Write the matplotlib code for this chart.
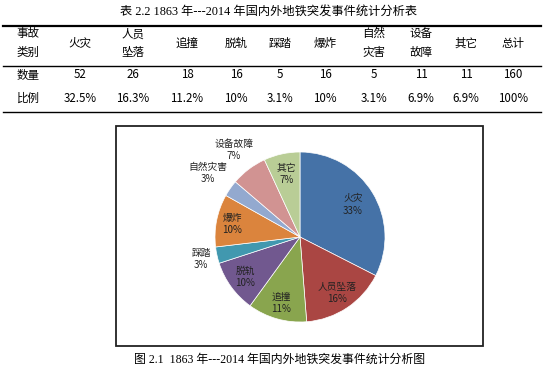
import matplotlib
matplotlib.use('Agg')
import matplotlib.pyplot as plt
from matplotlib.lines import Line2D
from matplotlib.patches import Rectangle
import numpy as np

plt.rcParams['font.family'] = ['Noto Sans CJK SC', 'DejaVu Sans']

# 表格数据
title = '表 2.2 1863 年---2014 年国内外地铁突发事件统计分析表'
caption = '图 2.1  1863 年---2014 年国内外地铁突发事件统计分析图'
header = ['事故\n类别', '火灾', '人员\n坠落', '追撞', '脱轨', '踩踏', '爆炸', '自然\n灾害', '设备\n故障', '其它', '总计']
counts_row = ['数量', '52', '26', '18', '16', '5', '16', '5', '11', '11', '160']
ratio_row = ['比例', '32.5%', '16.3%', '11.2%', '10%', '3.1%', '10%', '3.1%', '6.9%', '6.9%', '100%']

# 饼图数据
pie_labels = ['火灾', '人员坠落', '追撞', '脱轨', '踩踏', '爆炸', '自然灾害', '设备故障', '其它']
pie_counts = [52, 26, 18, 16, 5, 16, 5, 11, 11]
pie_colors = ['#4572A7', '#AA4643', '#89A54E', '#71588F', '#4198AF',
              '#DB843D', '#93A9CF', '#D19392', '#B9CD96']
label_dist = [0.73, 0.79, 0.81, 0.80, 1.19, 0.81, 1.32, 1.29, 0.76]

W, H = 552, 374
fig = plt.figure(figsize=(W / 100, H / 100), dpi=100)


def px(x, y):
    return x / W, 1 - y / H


def txt(x, y, s, **kw):
    fx, fy = px(x, y)
    fig.text(fx, fy, s, ha='center', va='center', **kw)


def hline(y, x0, x1, lw):
    a, b = px(x0, y)
    c, _ = px(x1, y)
    fig.add_artist(Line2D([a, c], [b, b], transform=fig.transFigure, color='black', lw=lw))


serif = ['Liberation Serif', 'Noto Sans CJK SC']

# 表格
txt(269, 13, title, fontsize=8.8, family=serif, fontweight='medium')
hline(26, 3, 541, 1.6)
hline(66, 3, 541, 1.0)
hline(112, 3, 541, 1.0)

col_x = [28, 80, 133, 187, 236, 280, 325, 374, 421, 466, 513]
for x, h in zip(col_x, header):
    txt(x, 43, h, fontsize=8.3, linespacing=1.55)
for x, c in zip(col_x, counts_row):
    txt(x, 75, c, fontsize=8.3)
for x, r in zip(col_x, ratio_row):
    txt(x, 98, r, fontsize=8.3)

# 图框
bx0, by0 = px(116, 346)
bx1, by1 = px(483, 126)
fig.add_artist(Rectangle((bx0, by0), bx1 - bx0, by1 - by0, transform=fig.transFigure,
                         fill=False, edgecolor='#222222', lw=1.3))

# 饼图
cx, cy, r = 300, 237, 85
ax = fig.add_axes([(cx - r) / W, 1 - (cy + r) / H, 2 * r / W, 2 * r / H])
wedges, _ = ax.pie(pie_counts, colors=pie_colors, startangle=90, counterclock=False,
                   radius=1.0, wedgeprops=dict(edgecolor='white', linewidth=0.5))
ax.set_xlim(-1, 1)
ax.set_ylim(-1, 1)
ax.set_aspect('equal')
ax.axis('off')

total = sum(pie_counts)
for w, lab, v, d in zip(wedges, pie_labels, pie_counts, label_dist):
    ang = np.deg2rad((w.theta1 + w.theta2) / 2)
    pct = int(v / total * 100 + 0.5)
    ax.text(d * np.cos(ang), d * np.sin(ang), f'{lab}\n{pct}%', ha='center', va='center',
            fontsize=7, linespacing=1.25, color='#222222', clip_on=False)

txt(280, 360, caption, fontsize=8.6, family=serif)

fig.savefig('out.png', dpi=100)
